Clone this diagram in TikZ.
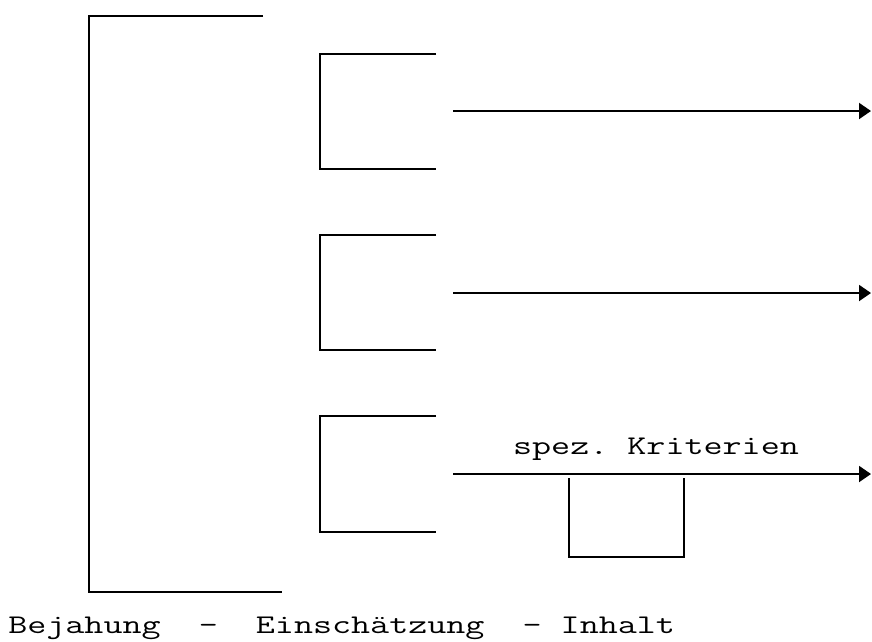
\documentclass[tikz,border=0pt]{standalone}
\usepackage{fontspec}
\usetikzlibrary{arrows.meta}
\tikzset{
  rule/.style={line width=2pt},
  flow/.style={line width=2pt, -{Triangle[length=12pt,width=16pt]}},
  label/.style={font=\ttfamily\fontsize{27}{30}\selectfont, xscale=1.37, inner sep=0pt}
}
\begin{document}
\begin{tikzpicture}[x=1pt, y=-1pt]
  \useasboundingbox (0,0) rectangle (872,641);
  % outer bracket
  \draw[rule] (263,16) -- (89,16) -- (89,592) -- (282,592);
  % three inner brackets
  \draw[rule] (436,54) -- (320,54) -- (320,169) -- (436,169);
  \draw[rule] (436,235) -- (320,235) -- (320,350) -- (436,350);
  \draw[rule] (436,416) -- (320,416) -- (320,532) -- (436,532);
  % arrows
  \coordinate (a1) at (453,111); \coordinate (b1) at (871,111);
  \coordinate (a2) at (453,293); \coordinate (b2) at (871,293);
  \coordinate (a3) at (453,474); \coordinate (b3) at (871,474);
  \draw[flow] (a1) -- (b1);
  \draw[flow] (a2) -- (b2);
  \draw[flow] (a3) -- (b3);
  % box under the third arrow
  \draw[rule] (569,478) -- (569,557) -- (684,557) -- (684,478);
  % labels
  \node[label, anchor=base] (crit) at (656,454) {spez.~Kriterien};
  \node[label, anchor=base west] (caption) at (8,633)
    {Bejahung~~–~~Einschätzung~~-~Inhalt};
\end{tikzpicture}
\end{document}
